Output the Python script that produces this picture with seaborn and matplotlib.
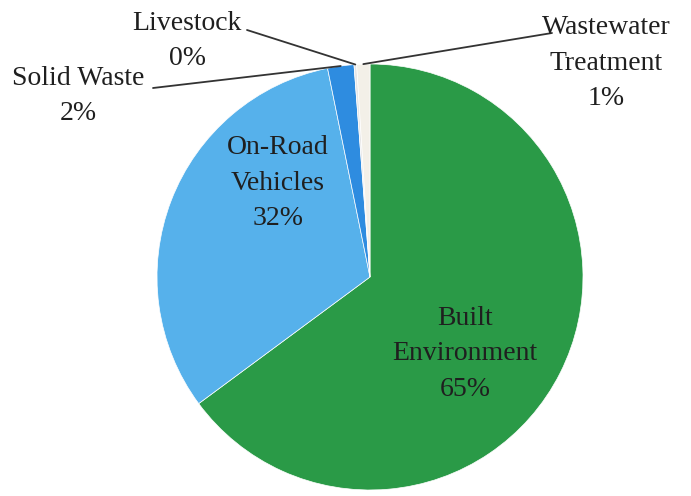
import matplotlib
matplotlib.use("Agg")
import matplotlib.pyplot as plt
import seaborn as sns
import numpy as np

categories = ["Built\nEnvironment", "On-Road\nVehicles", "Solid Waste", "Livestock", "Wastewater\nTreatment"]
shares = [65, 32, 2, 0.2, 1]
pct_labels = ["65%", "32%", "2%", "0%", "1%"]
colors = ["#2a9a47", "#56b1eb", "#2e8ce0", "#e6e6e6", "#f3f0e8"]

sns.set_theme(style="white")
plt.rcParams["font.family"] = ["Liberation Serif", "DejaVu Serif"]

W, H = 691, 496
cx, cy, r = 370, 277, 213


def px(x, y):
    # pixel position -> data coords (pie radius = 1)
    return (x - cx) / r, (cy - y) / r


fig = plt.figure(figsize=(W / 100, H / 100), dpi=100)
ax = fig.add_axes([0, 0, 1, 1])

wedges, _ = ax.pie(
    shares,
    colors=colors,
    startangle=90,
    counterclock=False,
    radius=1,
    wedgeprops=dict(edgecolor="white", linewidth=0.5),
)

ax.set_xlim(px(0, 0)[0], px(W, 0)[0])
ax.set_ylim(px(0, H)[1], px(0, 0)[1])
ax.set_aspect("equal")
ax.axis("off")

fs = 20
ls = 1.55
tc = "#1f1f1f"

# labels inside the big slices
ax.text(*px(465, 354), categories[0] + "\n" + pct_labels[0],
        ha="center", va="center", fontsize=fs, color=tc, linespacing=ls)
ax.text(*px(278, 183), categories[1] + "\n" + pct_labels[1],
        ha="center", va="center", fontsize=fs, color=tc, linespacing=ls)

# outside labels with leader lines
outside = [
    (2, (78, 96), (153, 88)),
    (3, (187, 41), (247, 30)),
    (4, (606, 63), (552, 33)),
]
for i, (tx, ty), (lx, ly) in outside:
    ax.text(*px(tx, ty), categories[i] + "\n" + pct_labels[i],
            ha="center", va="center", fontsize=fs, color=tc, linespacing=ls)
    w = wedges[i]
    mid = np.deg2rad((w.theta1 + w.theta2) / 2)
    ex, ey = np.cos(mid), np.sin(mid)
    sx, sy = px(lx, ly)
    ax.plot([sx, ex], [sy, ey], color="#333333", linewidth=1.3)

fig.savefig("out.png", dpi=100)
